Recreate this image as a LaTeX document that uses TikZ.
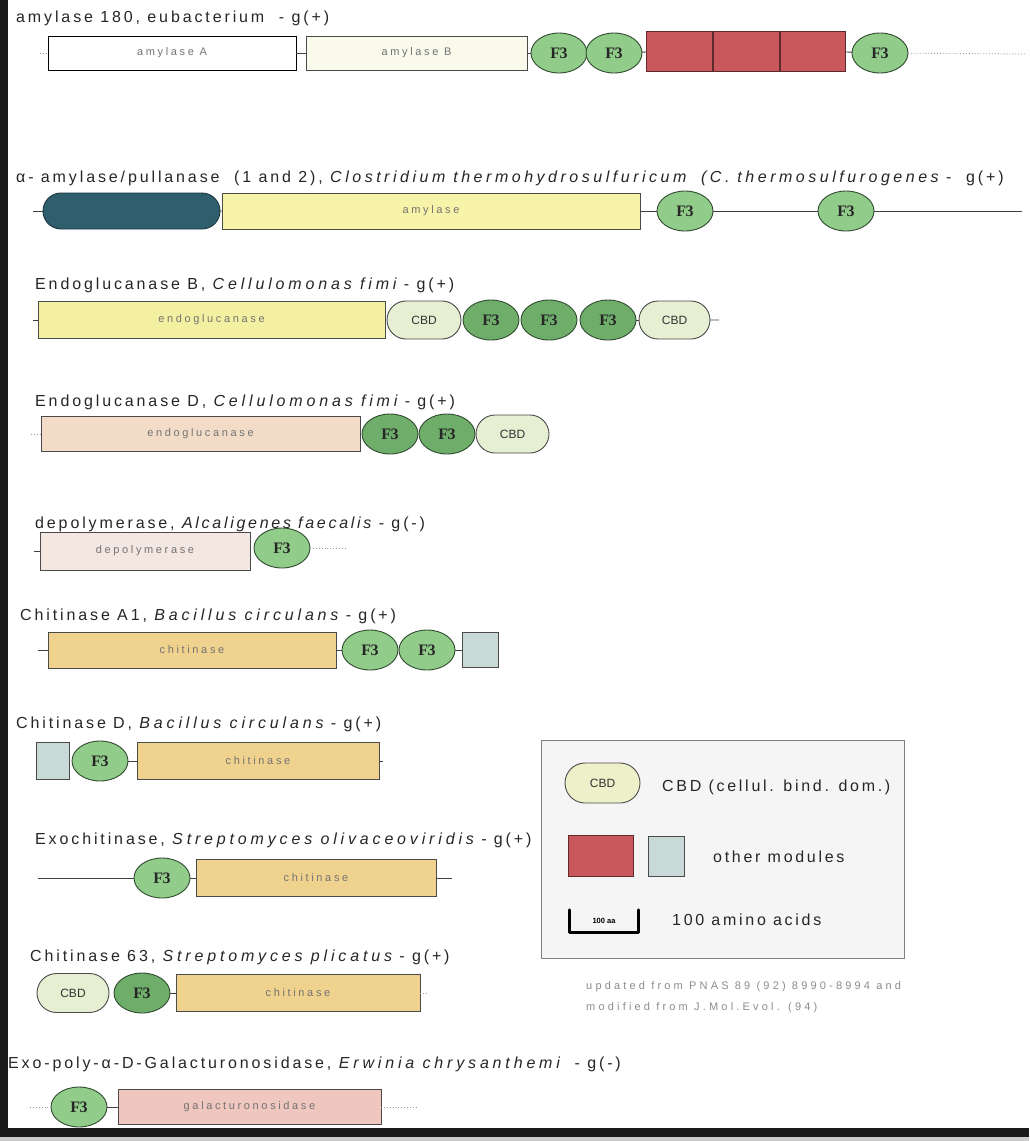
\documentclass[tikz,border=0pt]{standalone}
\usepackage{fontspec}
\setmainfont{Liberation Sans}
\newfontfamily\fthreefont{Liberation Serif}[LetterSpace=-4]
\usetikzlibrary{shapes.geometric,shapes.misc}

\definecolor{frame}{HTML}{1A1A1A}
\definecolor{edge}{HTML}{4A4A4A}
\definecolor{f3light}{HTML}{92CC8A}
\definecolor{f3dark}{HTML}{6FAD6B}
\definecolor{f3edge}{HTML}{2F4A2F}
\definecolor{cbdfill}{HTML}{E7EFD3}
\definecolor{cbdleg}{HTML}{EEF0C9}
\definecolor{creamB}{HTML}{FAFAEC}
\definecolor{redmod}{HTML}{C9585C}
\definecolor{rededge}{HTML}{5E2A2C}
\definecolor{tealpill}{HTML}{2F5E6D}
\definecolor{tealedge}{HTML}{1B3740}
\definecolor{amyyellow}{HTML}{F7F3A8}
\definecolor{endoyellow}{HTML}{F4F0A2}
\definecolor{endopeach}{HTML}{F2DCC8}
\definecolor{depopink}{HTML}{F4E6E0}
\definecolor{chitan}{HTML}{EFD28E}
\definecolor{galpink}{HTML}{EFC7BE}
\definecolor{othermod}{HTML}{C8D9D7}
\definecolor{legbg}{HTML}{F5F5F5}

\newcommand\titlefont{\fontsize{16}{18}\selectfont\addfontfeature{LetterSpace=18}}
% species names: italic, widely tracked (optional tracking amount)
\newcommand\spec[2][24]{{\itshape\addfontfeature{LetterSpace=#1}#2}}
\newcommand\boxfont{\fontsize{11}{12}\selectfont\addfontfeature{LetterSpace=24}}

\tikzset{
  x=1pt, y=-1pt,
  modbox/.style={draw=edge, line width=0.9pt, inner sep=0pt, outer sep=0pt,
    anchor=west, font=\boxfont, text=black!55},
  fthree/.style={ellipse, draw=f3edge, line width=0.9pt, fill=f3light,
    minimum width=56pt, minimum height=40pt, inner sep=0pt, outer sep=0pt,
    anchor=west, font=\fthreefont\bfseries\fontsize{16}{17}\selectfont, text=black!85},
  fthreedark/.style={fthree, fill=f3dark},
  cbd/.style={rounded rectangle, draw=edge, line width=0.9pt, fill=cbdfill,
    minimum height=38pt, inner sep=0pt, outer sep=0pt, anchor=west,
    font=\fontsize{12}{13}\selectfont, text=black!80},
  othbox/.style={modbox, fill=othermod},
  redbox/.style={modbox, fill=redmod, draw=rededge},
  link/.style={draw=black!75, line width=0.9pt},
  tail/.style={draw=black!40, line width=0.9pt, dotted},
  title/.style={anchor=base west, inner sep=0pt, font=\titlefont, text=black!85},
  legtext/.style={anchor=west, inner sep=0pt, font=\fontsize{16}{18}\selectfont\addfontfeature{LetterSpace=17}, text=black!85},
  note/.style={anchor=west, inner sep=0pt, text=black!45,
    font=\fontsize{11}{12}\selectfont\addfontfeature{LetterSpace=29}},
}

\begin{document}
\begin{tikzpicture}
% page and frame
\useasboundingbox (0,0) rectangle (1029,1141);
\fill[white] (0,0) rectangle (1029,1141);
\fill[frame] (0,0) rectangle (8,1137);
\fill[frame] (0,1128) rectangle (1029,1137);
\fill[black!20] (0,1137) rectangle (1029,1141);

% ---- amylase 180
\node[title] (t1) at (16,22) {amylase 180, eubacterium \ - g(+)};
\coordinate (r1s) at (40,53);
\node[modbox, fill=white, draw=black, minimum width=248, minimum height=34] (r1a) at (48,53) {amylase A};
\node[modbox, fill=creamB, minimum width=221, minimum height=34] (r1b) at (306,53) {amylase B};
\node[fthree] (r1f1) at (531,53) {F3};
\node[fthree] (r1f2) at (586,53) {F3};
\node[redbox, minimum width=66, minimum height=40] (r1r1) at (646,51) {};
\node[redbox, minimum width=66, minimum height=40] (r1r2) at (713,51) {};
\node[redbox, minimum width=65, minimum height=40] (r1r3) at (780,51) {};
\node[fthree] (r1f3) at (852,53) {F3};
\coordinate (r1e) at (1025,54);
\draw[tail] (r1s) -- (r1a);
\draw[link] (r1a) -- (r1b);
\draw[link] (r1b) -- (r1f1);
\draw[link] (r1f2) -- (r1r1);
\draw[link] (r1r3) -- (r1f3);
\draw[tail] (r1f3) -- (r1e);

% ---- alpha-amylase/pullulanase
\node[title] (t2) at (16,182) {α- amylase/pullanase \ (1 and 2), \spec[22]{Clostridium thermohydrosulfuricum} \ \spec[22]{(C. thermosulfurogenes} - \ g(+)};
\coordinate (r2s) at (33,211);
\node[rounded rectangle, draw=tealedge, line width=0.9pt, fill=tealpill, minimum width=177, minimum height=36, inner sep=0pt, outer sep=0pt, anchor=west] (r2p) at (43,211) {};
\node[modbox, fill=amyyellow, minimum width=418, minimum height=36] (r2a) at (222,211) {amylase};
\node[fthree] (r2f1) at (657,211) {F3};
\node[fthree] (r2f2) at (818,211) {F3};
\coordinate (r2e) at (1022,211);
\draw[link] (r2s) -- (r2p);
\draw[link] (r2p) -- (r2a);
\draw[link] (r2a) -- (r2f1);
\draw[link] (r2f1) -- (r2f2);
\draw[link] (r2f2) -- (r2e);

% ---- endoglucanase B
\node[title] (t3) at (35,289) {Endoglucanase B, \spec{Cellulomonas fimi} - g(+)};
\coordinate (r3s) at (33,320);
\node[modbox, fill=endoyellow, minimum width=347, minimum height=37] (r3a) at (38,320) {endoglucanase};
\node[cbd, minimum width=74] (r3c1) at (387,320) {CBD};
\node[fthreedark] (r3f1) at (463,320) {F3};
\node[fthreedark] (r3f2) at (521,320) {F3};
\node[fthreedark] (r3f3) at (580,320) {F3};
\node[cbd, minimum width=71] (r3c2) at (639,320) {CBD};
\coordinate (r3e) at (719,320);
\draw[link] (r3s) -- (r3a);
\draw[link] (r3f3) -- (r3c2);
\draw[link] (r3c2) -- (r3e);

% ---- endoglucanase D
\node[title] (t4) at (35,406) {Endoglucanase D, \spec{Cellulomonas fimi} - g(+)};
\coordinate (r4s) at (31,434);
\node[modbox, fill=endopeach, minimum width=319, minimum height=35] (r4a) at (41,434) {endoglucanase};
\node[fthreedark] (r4f1) at (362,434) {F3};
\node[fthreedark] (r4f2) at (419,434) {F3};
\node[cbd, minimum width=73] (r4c) at (476,434) {CBD};
\draw[tail] (r4s) -- (r4a);

% ---- depolymerase
\node[title] (t5) at (35,528) {depolymerase, \spec[17]{Alcaligenes faecalis} - g(-)};
\coordinate (r5s) at (34,551);
\node[modbox, fill=depopink, minimum width=210, minimum height=38] (r5a) at (40,551) {depolymerase};
\node[fthree] (r5f) at (254,548) {F3};
\coordinate (r5e) at (345,548);
\draw[link] (r5s) -- (r5a);
\draw[tail] (r5f) -- (r5e);

% ---- chitinase A1
\node[title] (t6) at (20,620) {Chitinase A1, \spec{Bacillus circulans} - g(+)};
\coordinate (r6s) at (38,650);
\node[modbox, fill=chitan, minimum width=288, minimum height=36] (r6a) at (48,650) {chitinase};
\node[fthree] (r6f1) at (342,650) {F3};
\node[fthree] (r6f2) at (399,650) {F3};
\node[othbox, minimum width=36, minimum height=35] (r6o) at (462,650) {};
\draw[link] (r6s) -- (r6a);
\draw[link] (r6a) -- (r6f1);
\draw[link] (r6f2) -- (r6o);

% ---- chitinase D
\node[title] (t7) at (16,728) {Chitinase D, \spec{Bacillus circulans} - g(+)};
\node[othbox, minimum width=33, minimum height=37] (r7o) at (36,761) {};
\node[fthree] (r7f) at (72,761) {F3};
\node[modbox, fill=chitan, minimum width=242, minimum height=37] (r7a) at (137,761) {chitinase};
\coordinate (r7e) at (383,761);
\draw[link] (r7f) -- (r7a);
\draw[link] (r7a) -- (r7e);

% ---- exochitinase
\node[title] (t8) at (35,844) {Exochitinase, \spec{Streptomyces olivaceoviridis} - g(+)};
\coordinate (r8s) at (38,878);
\node[fthree] (r8f) at (134,878) {F3};
\node[modbox, fill=chitan, minimum width=240, minimum height=37] (r8a) at (196,878) {chitinase};
\coordinate (r8e) at (452,878);
\draw[link] (r8s) -- (r8f);
\draw[link] (r8f) -- (r8a);
\draw[link] (r8a) -- (r8e);

% ---- chitinase 63
\node[title] (t9) at (30,961) {Chitinase 63, \spec{Streptomyces plicatus} - g(+)};
\node[cbd, minimum width=72, minimum height=39] (r9c) at (37,993) {CBD};
\node[fthreedark] (r9f) at (114,993) {F3};
\node[modbox, fill=chitan, minimum width=244, minimum height=37] (r9a) at (176,993) {chitinase};
\coordinate (r9e) at (426,993);
\draw[link] (r9f) -- (r9a);
\draw[tail] (r9a) -- (r9e);

% ---- exo-poly-alpha-D-galacturonosidase
\node[title] (t10) at (8,1068) {Exo-poly-α-D-Galacturonosidase, \spec{Erwinia chrysanthemi} \ - g(-)};
\coordinate (r10s) at (30,1107);
\node[fthree] (r10f) at (51,1107) {F3};
\node[modbox, fill=galpink, minimum width=263, minimum height=35] (r10a) at (118,1107) {galacturonosidase};
\coordinate (r10e) at (416,1107);
\draw[tail] (r10s) -- (r10f);
\draw[link] (r10f) -- (r10a);
\draw[tail] (r10a) -- (r10e);

% ---- legend
\node[draw=black!50, line width=0.9pt, fill=legbg, minimum width=363, minimum height=218, inner sep=0pt, anchor=north west] (leg) at (541,740) {};
\node[cbd, fill=cbdleg, minimum width=75, minimum height=40] (lcbd) at (565,783) {CBD};
\node[legtext] (lcbdt) at (662,787) {CBD (cellul. bind. dom.)};
\node[redbox, minimum width=65, minimum height=41] (lred) at (568,856) {};
\node[othbox, minimum width=36, minimum height=40] (loth) at (648,856) {};
\node[legtext] (lotht) at (713,857) {other modules};
\node[inner sep=0pt, minimum width=69, minimum height=22, font=\bfseries\fontsize{7.5}{8}\selectfont] (lsb) at (604,921) {100 aa};
\draw[line width=3pt, line cap=round, line join=round] (lsb.north west) -- (lsb.south west) -- (lsb.south east) -- (lsb.north east);
\node[legtext] (lsbt) at (672,920) {100 amino acids};
\node[note] (n1) at (586,987) {updated from PNAS 89 (92) 8990-8994 and};
\node[note] (n2) at (586,1008) {modified from J.Mol.Evol. (94)};
\end{tikzpicture}
\end{document}
